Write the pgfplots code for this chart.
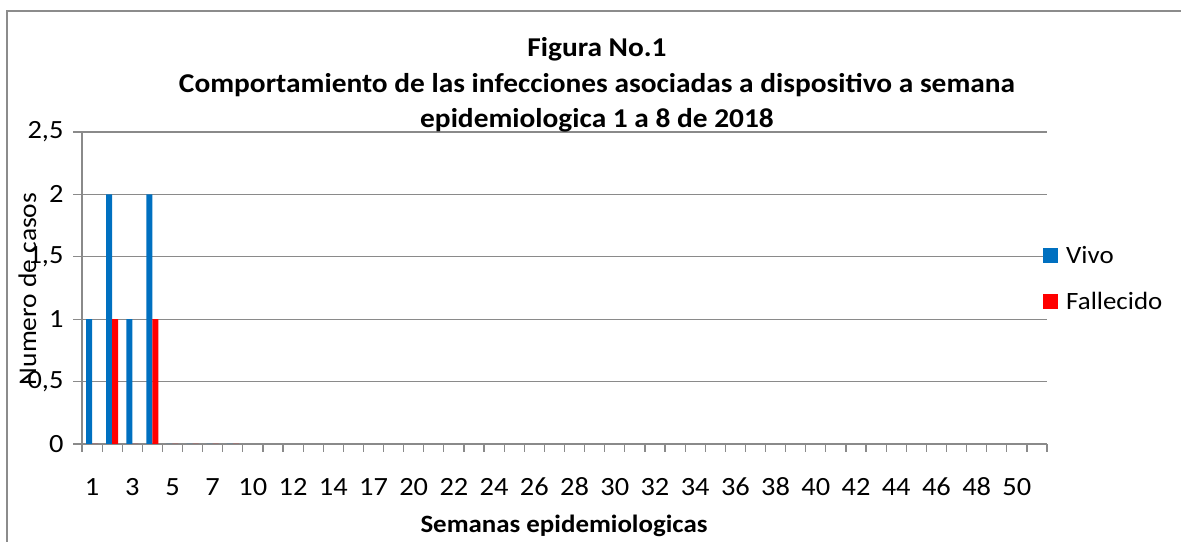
\documentclass[border=0pt]{standalone}
\usepackage{fontspec}
\setmainfont{Carlito}[FakeStretch=1.08]
\usepackage{pgfplots}
\pgfplotsset{compat=1.18}
\definecolor{vivo}{HTML}{0070C0}
\definecolor{fall}{HTML}{FF0000}
\definecolor{gridg}{HTML}{8A8A8A}
\definecolor{frameg}{HTML}{8C8C8C}
\begin{document}
\begin{tikzpicture}[x=1bp,y=1bp]
\useasboundingbox (0,0) rectangle (1181,542);
\draw[frameg, line width=1.6bp] (7,0) -- (7,531) -- (1181,531);
\begin{axis}[
  at={(82bp,98bp)}, anchor=south west,
  scale only axis, width=965bp, height=312bp,
  xmin=-0.5, xmax=47.5, ymin=0, ymax=2.5,
  enlargelimits=false,
  ybar, bar width=6bp,
  axis lines*=left,
  axis line style={gridg, line width=1.2bp, -},
  ytick={0,0.5,1,1.5,2,2.5},
  yticklabels={0,{0,5},1,{1,5},2,{2,5}},
  ymajorgrids,
  grid style={gridg, line width=1.2bp},
  xtick={0,2,...,46},
  xticklabels={1,3,5,7,10,12,14,17,20,22,24,26,28,30,32,34,36,38,40,42,44,46,48,50},
  minor xtick={-0.5,0.5,...,47.5},
  tick align=outside,
  major x tick style={draw=none},
  minor x tick style={gridg, line width=1.2bp},
  minor tick length=8bp,
  major y tick style={gridg, line width=1.2bp},
  major tick length=9bp,
  tick label style={font=\fontsize{26.4}{31}\selectfont, text=black},
  xticklabel style={anchor=base, yshift=-43bp},
  yticklabel style={anchor=east, xshift=-6bp},
  legend style={draw=none, fill=none, at={(0.9959,0.64)}, anchor=north west,
    font=\fontsize{25}{30}\selectfont, row sep=23bp, column sep=6bp, inner sep=0pt,
    cells={anchor=west}},
  legend cell align=left,
]
\addplot[fill=vivo, draw=none, bar shift=-3bp,
  legend image code/.code={\fill[vivo] (0bp,-7.5bp) rectangle (15bp,7.5bp);}]
  coordinates {(0,1) (1,2) (2,1) (3,2) (4,0) (5,0) (6,0) (7,0)};
\addlegendentry{Vivo}
\addplot[fill=fall, draw=none, bar shift=3bp,
  legend image code/.code={\fill[fall] (0bp,-7.5bp) rectangle (15bp,7.5bp);}]
  coordinates {(0,0) (1,1) (2,0) (3,1) (4,0) (5,0) (6,0) (7,0)};
\addlegendentry{Fallecido}
\end{axis}
\node[font=\bfseries\fontsize{27.3}{32}\selectfont, anchor=base] at (597,485) {Figura No.1};
\node[font=\bfseries\fontsize{27.3}{32}\selectfont, anchor=base] at (597,449) {Comportamiento de las infecciones asociadas a dispositivo a semana};
\node[font=\bfseries\fontsize{27.3}{32}\selectfont, anchor=base] at (597,414) {epidemiologica 1 a 8 de 2018};
\node[font=\bfseries\fontsize{25}{30}\selectfont, anchor=base] at (564,9) {Semanas epidemiologicas};
\node[font=\fontsize{25.5}{30}\selectfont, rotate=90, anchor=base] at (36,253) {Numero de casos};
\end{tikzpicture}
\end{document}
